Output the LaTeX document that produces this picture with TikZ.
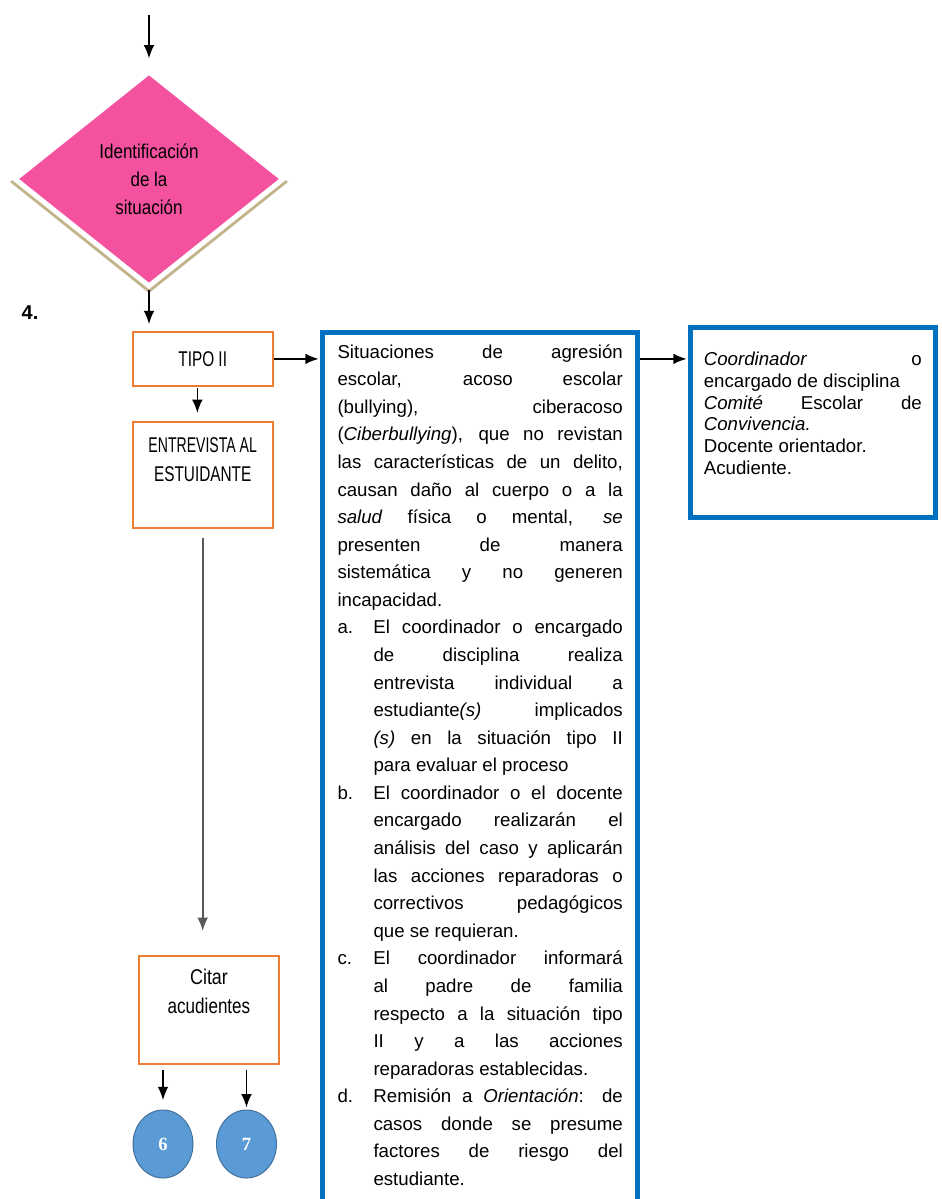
\documentclass[tikz,border=0pt]{standalone}
\usepackage{fontspec}
\setmainfont{Liberation Sans}
\newfontfamily\numfont{Liberation Serif}
\usetikzlibrary{shapes.geometric,arrows.meta}

\definecolor{rosa}{RGB}{244,82,158}
\definecolor{sombra}{RGB}{196,180,140}
\definecolor{naranja}{RGB}{237,125,49}
\definecolor{azul}{RGB}{0,112,192}
\definecolor{azulclaro}{RGB}{91,155,213}
\definecolor{azulborde}{RGB}{65,113,156}

\hbadness=10000

% texto angosto
\newcommand{\angosto}[2][0.7]{\scalebox{#1}[1]{#2}}
% texto arriba dentro de la caja
\newcommand{\textoarriba}[4]{\parbox[c][#1][t]{#2}{\centering\fontsize{16pt}{21.75pt}\selectfont\vspace*{#3}#4}}
% inciso con sangria francesa
\newcommand{\inciso}[1]{\par\hangindent=27pt\hangafter=1\noindent\makebox[27pt][l]{#1}}

\tikzset{every picture/.style={line width=0.75pt}}
\tikzset{
  flecha/.style={-{Latex[length=10pt,width=8pt]},line width=1.3pt},
  caja/.style={draw=naranja,line width=1.5pt,inner sep=0pt},
  marco/.style={draw=azul,line width=3.75pt,anchor=north west,align=justify},
  circulo/.style={ellipse,fill=azulclaro,draw=azulborde,minimum width=45pt,minimum height=51pt,inner sep=0pt,text=white,font=\numfont\bfseries\fontsize{14pt}{14pt}\selectfont}
}

\begin{document}
\begin{tikzpicture}[x=0.75pt,y=0.75pt,yscale=-1,xscale=1]
\path[use as bounding box] (0,0) rectangle (942,1199);
\clip (0,0) rectangle (942,1199);

%Shape: Diamond shadow
\fill[sombra] (149,71) -- (288,182) -- (149,293) -- (10,182) -- cycle;
%Shape: Diamond
\node[diamond,fill=rosa,draw=white,line width=3.75pt,minimum width=202.5pt,minimum height=162pt,inner sep=0pt,align=center,font=\fontsize{15pt}{21pt}\selectfont] (ident) at (149,179) {\angosto[0.85]{Identificación}\\\angosto[0.85]{de la}\\\angosto[0.85]{situación}};

% Text Node
\node[font=\fontsize{15pt}{15pt}\bfseries] (num) at (30,313) {4.};

%Shape: Rectangle
\node[caja,minimum width=105pt,minimum height=40.5pt,font=\fontsize{16pt}{16pt}\selectfont] (tipo) at (202.7,358.9) {\angosto[0.72]{TIPO II}};
%Shape: Rectangle
\node[caja] (entrevista) at (202.7,475) {\textoarriba{79.5pt}{105pt}{12pt}{\angosto[0.66]{ENTREVISTA AL}\\\angosto[0.72]{ESTUIDANTE}}};
%Shape: Rectangle
\node[caja] (citar) at (209,1010) {\textoarriba{81pt}{105pt}{9.75pt}{\angosto[0.84]{Citar}\\\angosto[0.8]{acudientes}}};

%Shape: Circle
\node[circulo] (c6) at (163,1144) {6};
%Shape: Circle
\node[circulo] (c7) at (246.5,1144) {7};

%Shape: Rectangle
\node[marco,text width=214pt,inner xsep=11.25pt,inner ysep=9pt,font=\fontsize{14pt}{20.68pt}\selectfont] (casos) at (320,330) {Situaciones de agresión\linebreak
escolar, acoso escolar\linebreak
(bullying), ciberacoso\linebreak
(\textit{Ciberbullying}), que no revistan\linebreak
las características de un delito,\linebreak
causan daño al cuerpo o a la\linebreak
\textit{salud} física o mental, \textit{se}\linebreak
presenten de manera\linebreak
sistemática y no generen\linebreak
incapacidad.
\inciso{a.}El coordinador o encargado\linebreak
de disciplina realiza\linebreak
entrevista individual a\linebreak
estudiante\textit{(s)} implicados\linebreak
\textit{(s)} en la situación tipo II\linebreak
para evaluar el proceso
\inciso{b.}El coordinador o el docente\linebreak
encargado realizarán el\linebreak
análisis del caso y aplicarán\linebreak
las acciones reparadoras o\linebreak
correctivos pedagógicos\linebreak
que se requieran.
\inciso{c.}El coordinador informará\linebreak
al padre de familia\linebreak
respecto a la situación tipo\linebreak
II y a las acciones\linebreak
reparadoras establecidas.
\inciso{d.}Remisión a \textit{Orientación}: de\linebreak
casos donde se presume\linebreak
factores de riesgo del\linebreak
estudiante.\par\vspace*{10pt}\mbox{}};

%Shape: Rectangle
\node[marco,text width=163.5pt,inner xsep=10pt,inner ysep=18.3pt,font=\fontsize{14pt}{16.35pt}\selectfont] (roles) at (688,325) {\textit{Coordinador} o\linebreak
encargado de disciplina\par
\textit{Comité} Escolar de\linebreak
\textit{Convivencia.}\par
Docente orientador.\par
Acudiente.\par\vspace*{-2.35pt}\mbox{}};

%Straight Lines
\coordinate (inicio) at (149,15);
\draw[flecha,shorten >=7.5pt] (inicio) -- (ident.north);
\draw[flecha,shorten >=5pt] (ident.south) -- (ident.south |- tipo.north);
\draw[flecha,shorten <=1pt,shorten >=6pt] ([xshift=-4pt]tipo.south) -- ([xshift=-4pt]entrevista.north);
\draw[flecha,black!65,shorten <=6.75pt,shorten >=18pt] (entrevista.south) -- (entrevista.south |- citar.north);
\draw[flecha,shorten <=4pt,shorten >=7pt] (c6.north |- citar.south) -- (c6.north);
\draw[flecha,shorten <=4pt,shorten >=1.5pt] (c7.north |- citar.south) -- (c7.north);
\draw[flecha,shorten >=1pt] (tipo.east) -- (tipo.east -| casos.west);
\draw[flecha,shorten >=1pt] (casos.east |- tipo.east) -- (roles.west |- tipo.east);
\end{tikzpicture}
\end{document}
